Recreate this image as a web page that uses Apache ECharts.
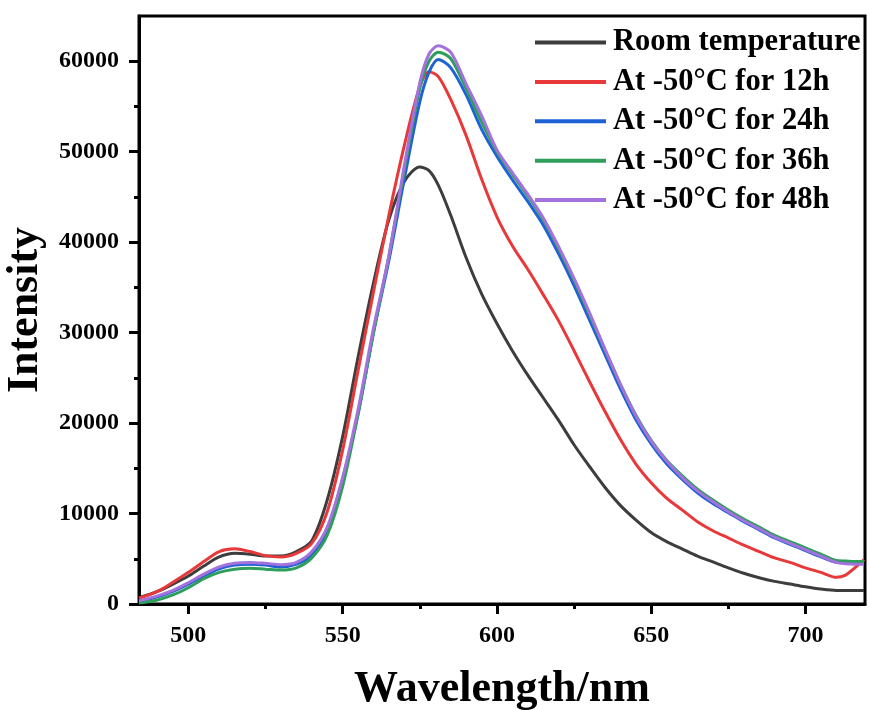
<!DOCTYPE html>
<html>
<head>
<meta charset="utf-8">
<script src="https://cdn.jsdelivr.net/npm/echarts@6/dist/echarts.min.js"></script>
<style>
  html, body { margin: 0; padding: 0; background: #fff; }
  #chart { width: 869px; height: 710px; }
</style>
</head>
<body>
<div id="chart"></div>
<script>
// Emission spectra: intensity vs wavelength (nm)
const wavelength = [484, 490, 495, 500, 505, 510, 515, 520, 525, 530,
  535, 540, 545, 550, 555, 560, 565, 570, 575, 578,
  581, 585, 590, 595, 600, 605, 610, 615, 620, 625,
  630, 635, 640, 645, 650, 655, 660, 665, 670, 675,
  680, 685, 690, 695, 700, 705, 710, 713, 716, 719];

const roomTemp = [700, 1400, 2200, 3100, 4200, 5200, 5600, 5500, 5300, 5300,
  5800, 7000, 11500, 18500, 27300, 35500, 42500, 46700, 48300, 47900,
  46300, 43000, 38300, 34300, 31000, 28000, 25300, 22800, 20300, 17600,
  15200, 12900, 10900, 9300, 7900, 6900, 6100, 5300, 4650, 4000,
  3400, 2900, 2500, 2200, 1900, 1650, 1500, 1500, 1500, 1500];

const cold12h = [650, 1400, 2400, 3500, 4700, 5800, 6100, 5800, 5350, 5200,
  5600, 6700, 10200, 17000, 25800, 34500, 43000, 50700, 57200, 58850,
  58300, 55800, 51800, 47000, 42800, 39600, 37000, 34200, 31300, 28000,
  24600, 21300, 18200, 15500, 13400, 11700, 10400, 9100, 8100, 7300,
  6500, 5800, 5100, 4600, 4000, 3500, 2950, 3200, 4000, 4900];

const cold24h = [300, 800, 1400, 2200, 3100, 3900, 4300, 4400, 4300, 4100,
  4400, 5400, 8200, 13800, 21000, 30000, 38000, 47000, 55500, 58800,
  60200, 59300, 56300, 52500, 49500, 46900, 44500, 41900, 38700, 35200,
  31400, 27600, 23800, 20400, 17700, 15500, 13800, 12300, 11100, 10100,
  9100, 8200, 7300, 6600, 5900, 5200, 4600, 4550, 4500, 4500];

const cold36h = [100, 450, 1000, 1800, 2800, 3500, 3850, 3950, 3850, 3750,
  4000, 5100, 7600, 13000, 21000, 30000, 38500, 48000, 57000, 60000,
  61000, 60300, 57000, 53300, 50000, 47500, 45100, 42500, 39300, 35800,
  32000, 28100, 24300, 20900, 18100, 15900, 14200, 12700, 11500, 10400,
  9400, 8500, 7600, 6900, 6200, 5500, 4800, 4750, 4700, 4700];

const cold48h = [350, 900, 1500, 2350, 3300, 4100, 4500, 4600, 4500, 4350,
  4600, 5800, 8500, 14000, 21500, 30500, 38500, 48500, 57600, 60800,
  61700, 61000, 57500, 54000, 50200, 47700, 45300, 42700, 39500, 36000,
  32200, 28200, 24300, 20800, 18000, 15800, 14000, 12500, 11300, 10200,
  9200, 8300, 7400, 6700, 6000, 5300, 4600, 4450, 4400, 4400];

const seriesNames = ['Room temperature', 'At -50\u00B0C for 12h', 'At -50\u00B0C for 24h',
  'At -50\u00B0C for 36h', 'At -50\u00B0C for 48h'];
const seriesValues = [roomTemp, cold12h, cold24h, cold36h, cold48h];
const seriesColors = ['#3d3d3d', '#e8383a', '#1f62d6', '#2e9e5a', '#a472dc'];

const xMajorTicks = [500, 550, 600, 650, 700];
const xMinorTicks = [525, 575, 625, 675];
const yMajorTicks = [0, 10000, 20000, 30000, 40000, 50000, 60000];
const yMinorTicks = [5000, 15000, 25000, 35000, 45000, 55000];

const FONT = "'Liberation Serif', 'Times New Roman', serif";
const X_MIN = 484, X_MAX = 719.3, Y_MIN = 0, Y_MAX = 65000;

const chart = echarts.init(document.getElementById('chart'));

const tickLabel = {
  fontFamily: FONT, fontWeight: 'bold', fontSize: 24, color: '#000',
  formatter: v => String(v)
};

chart.setOption({
  animation: false,
  backgroundColor: '#fff',
  grid: {
    left: 139, right: 4, top: 16, bottom: 106,
    outerBoundsMode: 'none',
    containLabel: false,
    show: true, borderColor: '#000', borderWidth: 3, backgroundColor: 'transparent'
  },
  legend: {
    orient: 'vertical',
    left: 535, top: 27,
    padding: 0,
    icon: 'rect',
    itemWidth: 71, itemHeight: 4,
    itemGap: 8.4,
    data: seriesNames,
    textStyle: { fontFamily: FONT, fontWeight: 'bold', fontSize: 30.5, lineHeight: 30, color: '#000', padding: [0, 0, 0, 2] }
  },
  xAxis: [
    {
      type: 'value', min: X_MIN, max: X_MAX, position: 'bottom',
      axisLine: { lineStyle: { color: '#000', width: 3 } },
      axisTick: { customValues: xMajorTicks, length: 10, lineStyle: { color: '#000', width: 3 } },
      axisLabel: Object.assign({ customValues: xMajorTicks, margin: 20 }, tickLabel),
      splitLine: { show: false },
      name: 'Wavelength/nm', nameLocation: 'middle', nameGap: 64,
      nameTextStyle: { fontFamily: FONT, fontWeight: 'bold', fontSize: 44, color: '#000' }
    },
    {
      type: 'value', min: X_MIN, max: X_MAX, position: 'bottom',
      axisLine: { show: false },
      axisTick: { customValues: xMinorTicks, length: 5, lineStyle: { color: '#000', width: 3 } },
      axisLabel: { show: false },
      splitLine: { show: false }
    }
  ],
  yAxis: [
    {
      type: 'value', min: Y_MIN, max: Y_MAX, position: 'left',
      axisLine: { show: true, lineStyle: { color: '#000', width: 3 } },
      axisTick: { show: true, customValues: yMajorTicks, length: 10, lineStyle: { color: '#000', width: 3 } },
      axisLabel: Object.assign({ customValues: yMajorTicks, margin: 20 }, tickLabel),
      splitLine: { show: false },
      name: 'Intensity', nameLocation: 'middle', nameGap: 89, nameRotate: 90,
      nameTextStyle: { fontFamily: FONT, fontWeight: 'bold', fontSize: 44, color: '#000' }
    },
    {
      type: 'value', min: Y_MIN, max: Y_MAX, position: 'left',
      axisLine: { show: false },
      axisTick: { show: true, customValues: yMinorTicks, length: 5, lineStyle: { color: '#000', width: 3 } },
      axisLabel: { show: false },
      splitLine: { show: false }
    }
  ],
  series: seriesNames.map((name, k) => ({
    name: name,
    type: 'line',
    xAxisIndex: 0,
    yAxisIndex: 0,
    smooth: 0.3,
    symbol: 'none',
    showSymbol: false,
    clip: true,
    color: seriesColors[k],
    lineStyle: { width: 3, color: seriesColors[k] },
    data: wavelength.map((w, i) => [w, seriesValues[k][i]])
  }))
});
</script>
</body>
</html>
